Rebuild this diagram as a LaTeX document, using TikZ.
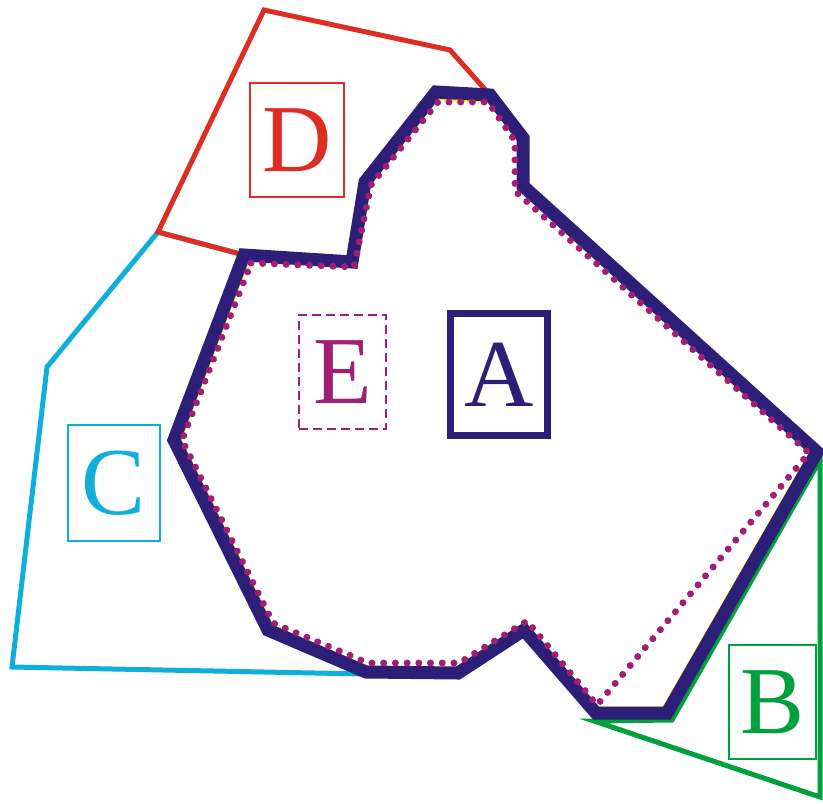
\documentclass[tikz,border=0pt]{standalone}
\usepackage{fontspec}
\setmainfont{Liberation Serif}
\definecolor{navyA}{RGB}{45,30,120}
\definecolor{purpE}{RGB}{160,30,115}
\definecolor{redD}{RGB}{222,45,35}
\definecolor{cyanC}{RGB}{15,175,220}
\definecolor{greenB}{RGB}{0,160,60}
\definecolor{yellowY}{RGB}{255,235,0}
\tikzset{
  region/.style={line width=5pt, line join=miter},
  labelbox/.style={draw, line width=2.5pt, inner sep=0pt, font=\fontsize{96}{96}\selectfont},
}
\begin{document}
\begin{tikzpicture}[x=1pt,y=-1pt]
\useasboundingbox (0,0) rectangle (823,804);
% C region
\draw[region, cyanC] (158,232) -- (47,367) -- (12,667) -- (365,674) -- (268,630) -- (174,440) -- (244,255) -- cycle;
% D region
\draw[region, redD] (158,232) -- (264,10) -- (450,50) -- (490,95) -- (436,92) -- (365,182) -- (352,262) -- (244,255) -- cycle;
% B region
\draw[region, greenB] (594,721) -- (672,720) -- (820,460) -- (820,797) -- cycle;
% yellow inner outline
\begin{scope}[shift={(495,440)}, scale=0.98, shift={(-495,-440)}]
\draw[yellowY, line width=2.5pt, line join=miter] (244,255) -- (352,262) -- (365,182) -- (436,92) -- (490,95) -- (523,138) -- (523,186) -- (817,452) -- (667,713) -- (596,713) -- (524,630) -- (458,673) -- (366,672) -- (268,630) -- (174,440) -- cycle;
\end{scope}
% A region
\draw[navyA, line width=13pt, line join=miter] (244,255) -- (352,262) -- (365,182) -- (436,92) -- (490,95) -- (523,138) -- (523,186) -- (817,452) -- (667,713) -- (596,713) -- (524,630) -- (458,673) -- (366,672) -- (268,630) -- (174,440) -- cycle;
% E region (dotted)
\draw[purpE, line width=7pt, line cap=round, dash pattern=on 0.01pt off 11.7pt] (251,263) -- (354,267) -- (371,185) -- (438,102) -- (488,102) -- (515,141) -- (515,191) -- (809,453) -- (597,705) -- (527,621) -- (459,663) -- (368,663) -- (273,623) -- (182,440) -- cycle;
% labels
\node[labelbox, redD, minimum width=94pt, minimum height=114pt] (labD) at (297,140) {D};
\node[labelbox, purpE, dash pattern=on 9pt off 5pt, minimum width=87pt, minimum height=114pt] (labE) at (342.5,372) {E};
\node[labelbox, navyA, line width=7pt, minimum width=97.5pt, minimum height=122.5pt] (labA) at (499,374.5) {A};
\node[labelbox, cyanC, minimum width=92pt, minimum height=116pt] (labC) at (114,483) {C};
\node[labelbox, greenB, minimum width=87pt, minimum height=114pt] (labB) at (772.5,702) {B};
\end{tikzpicture}
\end{document}
